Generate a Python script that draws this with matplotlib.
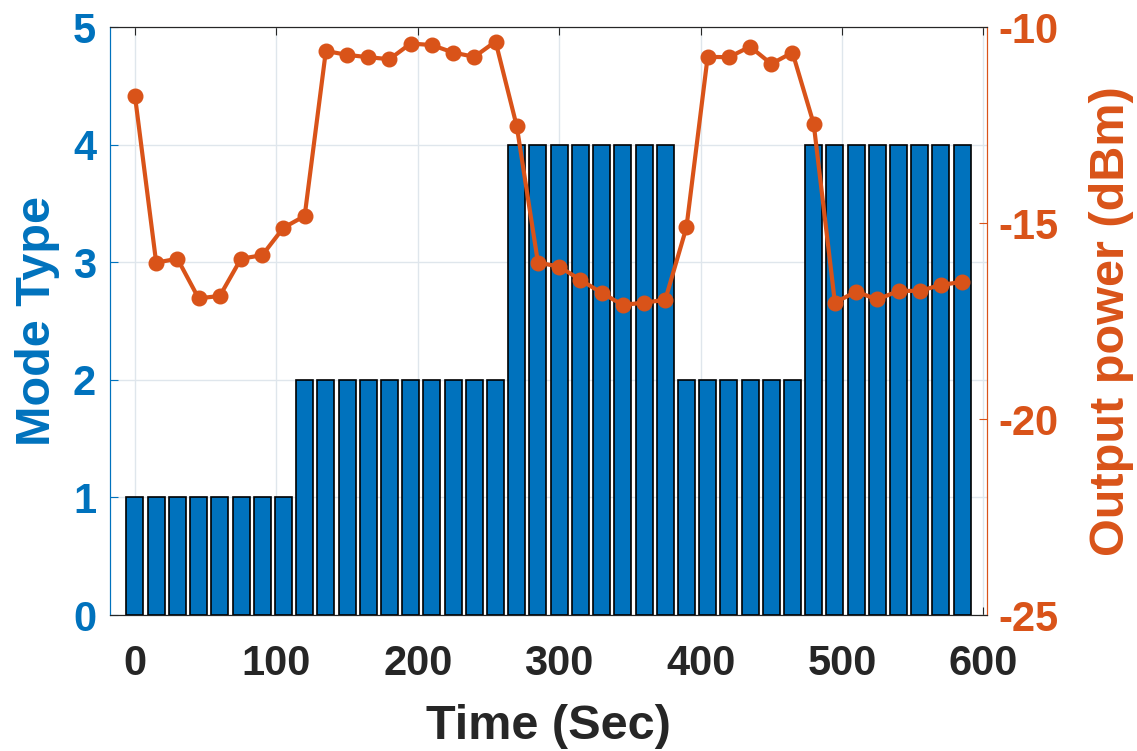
import numpy as np
import matplotlib
matplotlib.use('Agg')
import matplotlib.pyplot as plt

plt.rcParams['font.family'] = ['Liberation Sans', 'DejaVu Sans']
plt.rcParams['font.weight'] = 'bold'
plt.rcParams['axes.unicode_minus'] = False

# DATA
time_sec = np.arange(0, 600, 15)
mode_type = [1]*8 + [2]*10 + [4]*8 + [2]*6 + [4]*8
power_dbm = [-11.76, -16.01, -15.91, -16.92, -16.86, -15.91, -15.82, -15.12,
             -14.82, -10.61, -10.71, -10.77, -10.82, -10.42, -10.46, -10.65,
             -10.76, -10.37, -12.53, -16.01, -16.11, -16.45, -16.78, -17.09,
             -17.03, -16.96, -15.11, -10.76, -10.77, -10.50, -10.94, -10.65,
             -12.47, -17.03, -16.75, -16.95, -16.73, -16.73, -16.58, -16.50]

blue = '#0072BD'
orange = '#D95319'
dark = '#262626'

fig = plt.figure(figsize=(11.37, 7.51), dpi=100)
ax1 = fig.add_axes([0.0967, 0.181, 0.7713, 0.783])
ax2 = ax1.twinx()

ax1.bar(time_sec, mode_type, width=12, color=blue, edgecolor='black', linewidth=1.2, zorder=2)
ax1.set_xlim(-17.7, 602.5)
ax1.set_ylim(0, 5)
ax1.set_yticks([0, 1, 2, 3, 4, 5])
ax1.set_xticks([0, 100, 200, 300, 400, 500, 600])
ax1.set_axisbelow(True)
ax1.grid(True, color='#dfe6ec', linewidth=1.0)

ax2.plot(time_sec, power_dbm, '-o', color=orange, linewidth=3, markersize=10.5, zorder=3)
ax2.set_ylim(-25, -10)
ax2.set_yticks([-25, -20, -15, -10])

ax1.set_xlabel('Time (Sec)', fontsize=35, fontweight='bold', color=dark, labelpad=14)
ax1.set_ylabel('Mode Type', fontsize=35, fontweight='bold', color=blue, labelpad=9)
ax2.set_ylabel('Output power (dBm)', fontsize=35, fontweight='bold', color=orange, labelpad=22)

ax1.tick_params(axis='x', direction='in', top=True, colors=dark, labelsize=30, length=6, pad=21)
ax1.tick_params(axis='y', direction='in', colors=blue, labelsize=30, length=6, pad=10)
ax2.tick_params(axis='y', direction='in', colors=orange, labelsize=30, length=6, pad=8)

for ax in (ax1, ax2):
    ax.spines['top'].set_color(dark)
    ax.spines['bottom'].set_color(dark)
    ax.spines['left'].set_color(blue)
    ax.spines['right'].set_color(orange)

fig.savefig('out.png', dpi=100)
